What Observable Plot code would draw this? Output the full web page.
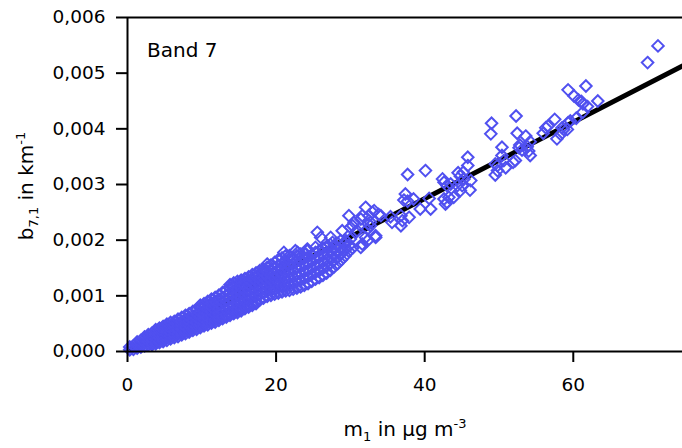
<!DOCTYPE html>
<html>
<head>
<meta charset="utf-8">
<script src="https://cdn.jsdelivr.net/npm/d3@7"></script>
<script src="https://cdn.jsdelivr.net/npm/@observablehq/plot@0.6"></script>
<style>
  html, body { margin: 0; padding: 0; background: #fff; }
  svg { display: block; }
</style>
</head>
<body>
<div id="chart"></div>
<script>
// Data (y values in units of 0.001 km^-1)
const sparseX = [71.4,70.0,61.7,59.3,60.1,60.7,61.1,61.3,61.9,63.3,61.3,60.4,59.3,58.5,59.2,52.3,49.0,48.9,52.45,57.5,56.6,56.3,55.95,53.6,54.2,53.8,54.0,50.4,50.4,49.8,50.9,49.5,52.2,52.7,57.8,58.3,58.7,59.6,45.8,45.8,45.2,54.2,53.1,52.8,50.65,49.5,49.8,51.9,46.2,37.7,40.1,42.4,42.6,43.5,44.5,44.8,45.3,45.05,44.8,46.1,44.4,43.0,37.4,37.2,37.7,38.5,40.6,39.4,40.8,42.6,43.0,42.8,43.25,43.9,33.2,34.1,35.4,36.8,37.0,36.8,37.9,33.4,32.7,35.6,33.8,32.05,32.5,31.4,30.3,28.9,32.4,32.05,31.4,30.7,25.55,27.35,28.7,30.0,22.9,24.2,21.3,32.95,31.6,32.7,29.8,30.5,30.9,33.4,32.3,32.3,29.4,27.6,24.2,25.3,26.9,26.0,30.0,31.6,21.05,22.6,24.0,22.4,18.8,20.6,18.4,20.2,17.9];
const sparseY = [5.49,5.19,4.77,4.70,4.59,4.52,4.49,4.45,4.40,4.50,4.30,4.19,4.11,4.02,3.99,4.23,4.10,3.91,3.92,4.17,4.05,4.02,3.92,3.87,3.77,3.68,3.60,3.67,3.52,3.34,3.30,3.17,3.43,3.66,3.82,3.90,3.99,4.14,3.49,3.34,3.22,3.52,3.62,3.71,3.43,3.37,3.25,3.40,3.07,3.18,3.25,3.10,3.04,3.01,3.21,3.15,3.10,2.98,2.89,2.90,2.98,2.98,2.83,2.72,2.70,2.74,2.75,2.56,2.56,2.74,2.68,2.65,2.77,2.77,2.53,2.44,2.42,2.44,2.35,2.26,2.41,2.05,2.32,2.32,2.46,2.59,2.44,2.38,2.26,2.17,2.29,2.05,1.87,2.14,2.14,2.05,1.99,2.02,1.78,1.81,1.72,2.50,2.44,2.26,2.44,2.32,2.17,2.08,2.20,1.99,1.99,1.96,1.84,1.87,1.90,2.05,2.23,1.93,1.78,1.81,1.75,1.66,1.57,1.48,1.45,1.21,1.33];

const bandX = [0.3,0.8,1.3,1.8,2.3,2.8,3.3,3.8,4.3,4.8,5.3,5.8,6.3,6.8,7.3,7.8,8.3,8.8,9.3,9.8,10.3,10.8,11.3,11.8,12.3,12.8,13.3,13.8,14.3,14.8,15.3,15.8,16.3,16.8,17.3,17.8,18.3,18.8,19.3,19.8,20.3,20.8,21.3,21.8,22.3,22.8,23.3,23.8,24.3,24.8,25.3,25.8,26.3,26.8,27.3,27.8,28.3,28.8,29.3,29.8,30.3];
const bandY = [
  [0.03,0.08],
  [0.04,0.10],
  [0.06,0.12,0.17],
  [0.08,0.14,0.20],
  [0.10,0.16,0.22,0.26],
  [0.12,0.18,0.24,0.30],
  [0.12,0.15,0.21,0.27,0.33],
  [0.14,0.17,0.23,0.29,0.35,0.39],
  [0.16,0.19,0.25,0.31,0.37,0.42],
  [0.18,0.22,0.28,0.34,0.40,0.45],
  [0.20,0.25,0.31,0.37,0.43,0.49],
  [0.23,0.28,0.34,0.40,0.46,0.52],
  [0.25,0.30,0.36,0.42,0.48,0.54],
  [0.27,0.32,0.39,0.45,0.51,0.58],
  [0.30,0.35,0.41,0.48,0.54,0.61],
  [0.32,0.37,0.44,0.51,0.58,0.65],
  [0.35,0.40,0.47,0.54,0.61,0.68],
  [0.38,0.43,0.50,0.57,0.64,0.72],
  [0.40,0.45,0.52,0.60,0.67,0.75],
  [0.43,0.48,0.55,0.63,0.70,0.78,0.83],
  [0.46,0.51,0.58,0.66,0.73,0.81,0.86],
  [0.48,0.53,0.61,0.69,0.76,0.84,0.90],
  [0.51,0.56,0.64,0.72,0.80,0.87,0.94],
  [0.53,0.58,0.66,0.74,0.82,0.90,0.97],
  [0.56,0.61,0.69,0.77,0.86,0.94,1.01],
  [0.59,0.63,0.72,0.80,0.89,0.97,1.06],
  [0.62,0.66,0.75,0.83,0.92,1.01,1.10],
  [0.65,0.69,0.78,0.87,0.96,1.05,1.14,1.20],
  [0.68,0.72,0.81,0.90,0.99,1.08,1.17,1.23],
  [0.70,0.75,0.84,0.93,1.02,1.11,1.20,1.26],
  [0.73,0.78,0.87,0.96,1.05,1.14,1.22,1.28],
  [0.77,0.81,0.90,0.99,1.08,1.17,1.25,1.31],
  [0.80,0.84,0.93,1.02,1.11,1.20,1.28,1.34],
  [0.83,0.87,0.96,1.05,1.14,1.23,1.31,1.38],
  [0.86,0.90,0.99,1.08,1.17,1.26,1.35,1.41],
  [0.93,1.02,1.11,1.20,1.29,1.38,1.45],
  [0.96,1.05,1.14,1.23,1.32,1.41,1.48],
  [0.99,1.08,1.17,1.26,1.35,1.44,1.51],
  [1.01,1.10,1.19,1.28,1.38,1.47,1.55],
  [1.03,1.12,1.22,1.31,1.41,1.50,1.60],
  [1.05,1.15,1.25,1.35,1.45,1.55,1.65],
  [1.07,1.17,1.27,1.38,1.48,1.58,1.68],
  [1.09,1.19,1.30,1.41,1.51,1.62],
  [1.10,1.21,1.32,1.43,1.54,1.65,1.72],
  [1.12,1.23,1.34,1.46,1.57,1.68],
  [1.14,1.26,1.38,1.50,1.62,1.72],
  [1.16,1.28,1.40,1.52,1.64,1.75],
  [1.19,1.31,1.43,1.55,1.67,1.76],
  [1.22,1.34,1.46,1.58,1.70],
  [1.26,1.38,1.50,1.62,1.74],
  [1.30,1.42,1.54,1.66,1.78],
  [1.33,1.45,1.57,1.69,1.81],
  [1.37,1.49,1.61,1.73,1.85],
  [1.41,1.53,1.65,1.77,1.88],
  [1.46,1.58,1.70,1.82,1.92],
  [1.52,1.64,1.76,1.88],
  [1.58,1.70,1.82,1.94],
  [1.65,1.76,1.88],
  [1.72,1.83,1.94],
  [1.80,1.90],
  [1.86]
];

// Regression line
const fitX = [0.5, 74.7];
const fitY = [0.034, 5.13];

const xTicks = [0, 20, 40, 60];
const yTicks = [0, 1, 2, 3, 4, 5, 6];
const xDomain = [0, 74.7];
const yDomain = [0, 6];

const points = sparseX.map((x, i) => ({x, y: sparseY[i]}));
bandX.forEach((x, i) => bandY[i].forEach(y => points.push({x, y})));
const fit = fitX.map((x, i) => ({x, y: fitY[i]}));

const FONT = "DejaVu Sans";
const blue = "#5050F0";

const chart = Plot.plot({
  width: 682,
  height: 448,
  marginLeft: 127,
  marginRight: 0,
  marginTop: 17,
  marginBottom: 97,
  style: {fontFamily: FONT, background: "white", color: "black"},
  x: {domain: xDomain},
  y: {domain: yDomain},
  marks: [
    Plot.line(fit, {x: "x", y: "y", stroke: "black", strokeWidth: 5}),
    Plot.dot(points, {x: "x", y: "y", symbol: "diamond2", r: 5.2, stroke: blue, strokeWidth: 2, fill: "none"}),
    Plot.ruleX([0], {stroke: "black", strokeWidth: 2}),
    Plot.ruleY([0], {stroke: "black", strokeWidth: 2}),
    Plot.ruleY([6], {stroke: "black", strokeWidth: 2}),
    Plot.axisY(yTicks, {tickSize: 11, tickPadding: 11, strokeWidth: 2, fontSize: 18.5,
      tickFormat: d => (d / 1000).toFixed(3).replace(".", ","), label: null}),
    Plot.axisX(xTicks, {tickSize: 11, tickPadding: 15, strokeWidth: 2, fontSize: 18.5,
      tickFormat: d => String(d), label: null})
  ]
});

document.getElementById("chart").appendChild(chart);

const svg = d3.select(chart);
// Panel label
svg.append("text")
  .attr("x", 147).attr("y", 57)
  .attr("text-anchor", "start")
  .attr("font-family", FONT).attr("font-size", 20).attr("fill", "black")
  .text("Band 7");

// X axis title
const xt = svg.append("text")
  .attr("x", 405).attr("y", 436)
  .attr("text-anchor", "middle")
  .attr("font-family", FONT).attr("font-size", 20).attr("fill", "black");
xt.append("tspan").text("m");
xt.append("tspan").attr("font-size", 13).attr("dy", 5).text("1");
xt.append("tspan").attr("dy", -5).text(" in \u00B5g m");
xt.append("tspan").attr("font-size", 13).attr("dy", -8).text("-3");

// Y axis title
const yt = svg.append("text")
  .attr("transform", "translate(33,186) rotate(-90)")
  .attr("text-anchor", "middle")
  .attr("font-family", FONT).attr("font-size", 20).attr("fill", "black");
yt.append("tspan").text("b");
yt.append("tspan").attr("font-size", 13).attr("dy", 5).text("7,1");
yt.append("tspan").attr("dy", -5).text(" in km");
yt.append("tspan").attr("font-size", 13).attr("dy", -8).text("-1");
</script>
</body>
</html>
